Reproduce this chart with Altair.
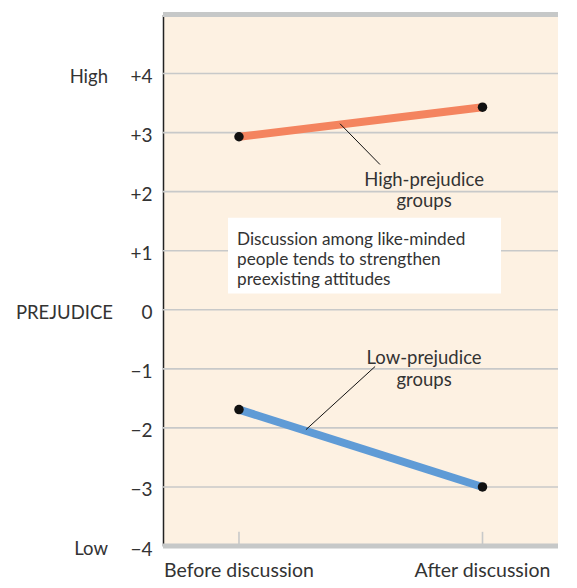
import altair as alt
import pandas as pd

stages = ["Before discussion", "After discussion"]
stage_pos = [0, 1]
groups = ["High-prejudice groups", "Low-prejudice groups"]
high_vals = [2.93, 3.43]
low_vals = [-1.69, -3.0]
y_ticks = [-4, -3, -2, -1, 0, 1, 2, 3, 4]
grid_vals = [-3, -2, -1, 0, 1, 2, 3, 4]
band_vals = [-4, 5]
box_lines = ["Discussion among like-minded", "people tends to strengthen", "preexisting attitudes"]

FONT = "Lato"
TXT = "#333333"

rows = []
for g, vals in zip(groups, [high_vals, low_vals]):
    for s, p, v in zip(stages, stage_pos, vals):
        rows.append({"group": g, "stage": s, "pos": p, "value": v})
df = pd.DataFrame(rows)

xs = alt.Scale(domain=[-0.312, 1.31], nice=False, zero=False)
ys = alt.Scale(domain=[-4, 5], nice=False, zero=False)

yaxis = alt.Axis(
    values=y_ticks, title=None, grid=False, ticks=False,
    domain=True, domainColor="#222222", domainWidth=1.5,
    labelFont=FONT, labelFontSize=19, labelColor=TXT, labelPadding=11,
    labelOffset=3,
    labelExpr="datum.value > 0 ? '+' + datum.value : (datum.value < 0 ? '\u2212' + abs(datum.value) : '0')")

X = lambda f: alt.X(f, type="quantitative", scale=xs, axis=None)
Y = lambda f: alt.Y(f, type="quantitative", scale=ys, axis=yaxis)

grid = alt.Chart(pd.DataFrame({"v": grid_vals})).mark_rule(color="#c8c9c9", strokeWidth=1.6).encode(y=Y("v"))

xtick = alt.Chart(pd.DataFrame({"p": stage_pos, "y0": [-4, -4], "y1": [-3.76, -3.76]})).mark_rule(
    color="#c8c9c9", strokeWidth=1.6).encode(x=X("p"), y=Y("y0"), y2="y1")

bands = alt.Chart(pd.DataFrame({"v": band_vals})).mark_rule(color="#c6c8c8", strokeWidth=5).encode(y=Y("v"))

box = alt.Chart(pd.DataFrame({"x0": [-0.045], "x1": [1.076], "y0": [0.276], "y1": [1.56]})).mark_rect(
    fill="white").encode(x=X("x0"), x2="x1", y=Y("y0"), y2="y1")

lines = alt.Chart(df).mark_line(strokeWidth=8, strokeCap="butt").encode(
    x=X("pos"), y=Y("value"),
    color=alt.Color("group:N", scale=alt.Scale(domain=groups, range=["#f4845f", "#5f9bd6"]), legend=None),
    detail="group:N")

points = alt.Chart(df).mark_circle(size=90, color="#111111", opacity=1).encode(x=X("pos"), y=Y("value"))

leaders = alt.Chart(pd.DataFrame({
    "x0": [0.415, 0.559], "y0": [3.15, -0.96], "x1": [0.579, 0.275], "y1": [2.46, -2.03]
})).mark_rule(color="#111111", strokeWidth=1).encode(x=X("x0"), y=Y("y0"), x2="x1", y2="y1")

ann = alt.Chart(pd.DataFrame({
    "x": [0.76, 0.76, 0.76, 0.76],
    "y": [2.19, 1.85, -0.82, -1.19],
    "t": ["High-prejudice", "groups", "Low-prejudice", "groups"]
})).mark_text(font=FONT, fontSize=18.5, color=TXT, align="center", baseline="middle").encode(
    x=X("x"), y=Y("y"), text="t:N")

box_text = alt.Chart(pd.DataFrame({
    "x": [-0.008] * 3, "y": [1.19, 0.85, 0.5], "t": box_lines
})).mark_text(font=FONT, fontSize=17.2, color=TXT, align="left", baseline="middle").encode(
    x=X("x"), y=Y("y"), text="t:N")

side = alt.Chart(pd.DataFrame({
    "y": [4, 0, -4], "t": ["High", "PREJUDICE", "Low"], "dx": [-55, -50, -55]
})).mark_text(font=FONT, fontSize=18.5, color=TXT, align="right", baseline="middle", dy=3).encode(
    x=alt.X("dx:Q", scale=None), y=Y("y"), text="t:N")

xlab = alt.Chart(pd.DataFrame({"p": stage_pos, "s": stages, "y": [-4, -4]})).mark_text(
    font=FONT, fontSize=19.5, color=TXT, align="center", baseline="alphabetic", dy=31).encode(
    x=X("p"), y=Y("y"), text="s:N")

chart = alt.layer(
    grid, xtick, box, lines, points, leaders, ann, box_text, bands, side, xlab
).properties(
    width=395, height=531.5,
    autosize=alt.AutoSizeParams(type="none"),
    padding={"left": 155, "top": 6.5, "right": 10, "bottom": 34}
).configure_view(fill="#fdf1e2", stroke=None)

chart.save("out.html", embed_options={"renderer": "svg", "actions": False})
